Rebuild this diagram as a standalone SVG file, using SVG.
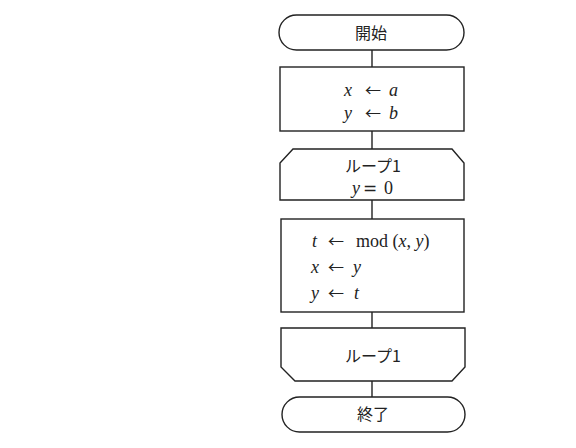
<svg xmlns="http://www.w3.org/2000/svg" width="576" height="448" viewBox="0 0 576 448">
<style>
.s{fill:#fff;stroke:#222;stroke-width:1.4}
.c{stroke:#222;stroke-width:1.4;fill:none}
.j{font-family:"Noto Sans CJK JP","Noto Sans",sans-serif;font-size:16px;fill:#222;text-anchor:middle}
.m{font-family:"Liberation Serif","Times New Roman",serif;font-size:18px;fill:#222}
.i{font-style:italic}
.a{font-family:"Noto Sans CJK JP",sans-serif;font-size:16px;font-style:normal}
.e{font-family:"DejaVu Sans",sans-serif;font-size:17px}
</style>
<rect width="576" height="448" fill="#fff"/>
<g id="connectors">
<line class="c" x1="372" y1="50" x2="372" y2="68"/>
<line class="c" x1="372" y1="131" x2="372" y2="149"/>
<line class="c" x1="372" y1="200" x2="372" y2="219"/>
<line class="c" x1="372" y1="312" x2="372" y2="328"/>
<line class="c" x1="372" y1="381" x2="372" y2="397"/>
</g>
<g id="start">
<rect class="s" x="279" y="15" width="185" height="35" rx="17.5"/>
<text class="j" x="371" y="39">開始</text>
</g>
<g id="init">
<rect class="s" x="280" y="67" width="184" height="64"/>
<text class="m" x="344" y="96"><tspan class="i">x</tspan><tspan class="a" x="365">←</tspan><tspan class="i" x="389">a</tspan></text>
<text class="m" x="344" y="119"><tspan class="i">y</tspan><tspan class="a" x="365">←</tspan><tspan class="i" x="389">b</tspan></text>
</g>
<g id="loop-start">
<path class="s" d="M293,149 L452,149 L464,163 L464,200 L280,200 L280,163 Z"/>
<text class="j" x="373" y="172">ループ1</text>
<text class="m" x="352" y="194"><tspan class="i">y</tspan><tspan class="e" x="363">=</tspan><tspan x="384">0</tspan></text>
</g>
<g id="body">
<rect class="s" x="281" y="219" width="183" height="93"/>
<text class="m" x="312" y="247"><tspan class="i">t</tspan><tspan class="a" x="328">←</tspan><tspan x="356">mod (</tspan><tspan class="i">x</tspan>, <tspan class="i">y</tspan>)</text>
<text class="m" x="311" y="273"><tspan class="i">x</tspan><tspan class="a" x="328">←</tspan><tspan class="i" x="353">y</tspan></text>
<text class="m" x="311" y="299"><tspan class="i">y</tspan><tspan class="a" x="328">←</tspan><tspan class="i" x="354">t</tspan></text>
</g>
<g id="loop-end">
<path class="s" d="M281,328 L465,328 L465,367 L452,381 L295,381 L281,367 Z"/>
<text class="j" x="373" y="362">ループ1</text>
</g>
<g id="end">
<rect class="s" x="282" y="397" width="183" height="35" rx="17.5"/>
<text class="j" x="373" y="420">終了</text>
</g>
</svg>
